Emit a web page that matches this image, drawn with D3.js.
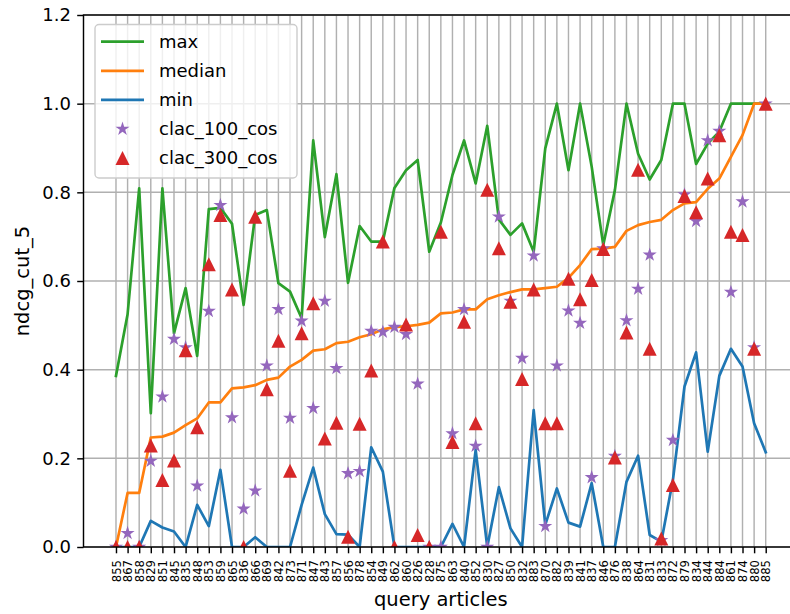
<!DOCTYPE html>
<html>
<head>
<meta charset="utf-8">
<script src="https://cdn.jsdelivr.net/npm/d3@7"></script>
<style>
  body { margin: 0; background: #fff; }
  text { font-family: "DejaVu Sans", sans-serif; }
</style>
</head>
<body>
<svg id="canvas"></svg>
<script>
let articles = [855, 867, 858, 829, 851, 845, 835, 848, 853, 859, 865, 836, 866, 869, 842, 873, 871, 847, 843, 857,
  856, 878, 854, 849, 862, 860, 826, 828, 875, 863, 840, 852, 830, 827, 850, 832, 883, 870, 882, 839,
  841, 837, 846, 876, 838, 864, 831, 833, 872, 879, 834, 844, 884, 861, 874, 880, 885];

let maxVals = [0.386, 0.525, 0.809, 0.302, 0.809, 0.482, 0.584, 0.431, 0.762, 0.765, 0.729, 0.546, 0.749, 0.760, 0.595, 0.576, 0.516, 0.917, 0.699, 0.841,
  0.596, 0.724, 0.689, 0.689, 0.81, 0.85, 0.873, 0.666, 0.732, 0.839, 0.917, 0.82, 0.95, 0.739, 0.704, 0.730, 0.666, 0.899, 1.0, 0.85,
  1.0, 0.858, 0.681, 0.805, 1.0, 0.887, 0.829, 0.873, 1.0, 1.0, 0.864, 0.91, 0.937, 1.0, 1.0, 1.0, 1.0];

let medianVals = [0, 0.122, 0.122, 0.247, 0.249, 0.258, 0.275, 0.290, 0.326, 0.326, 0.358, 0.360, 0.365, 0.377, 0.382, 0.407, 0.422, 0.443, 0.446, 0.46,
  0.463, 0.473, 0.480, 0.491, 0.496, 0.498, 0.501, 0.506, 0.527, 0.529, 0.536, 0.536, 0.559, 0.568, 0.575, 0.581, 0.581, 0.584, 0.587, 0.607,
  0.636, 0.672, 0.673, 0.677, 0.713, 0.726, 0.733, 0.738, 0.760, 0.775, 0.778, 0.808, 0.831, 0.880, 0.929, 1.0, 1.0];

let minVals = [0, 0, 0, 0.059, 0.044, 0.035, 0, 0.095, 0.047, 0.174, 0, 0, 0.022, 0, 0, 0, 0.095, 0.179, 0.074, 0.029,
  0.028, 0, 0.225, 0.17, 0, 0, 0, 0, 0, 0.052, 0, 0.219, 0, 0.135, 0.042, 0, 0.309, 0.05, 0.132, 0.055,
  0.046, 0.144, 0, 0, 0.147, 0.206, 0.027, 0.012, 0.151, 0.362, 0.439, 0.215, 0.386, 0.447, 0.407, 0.279, 0.214];

let clac100 = [0, 0.031, 0, 0.194, 0.339, 0.469, 0.45, 0.138, 0.532, 0.771, 0.292, 0.086, 0.127, 0.409, 0.536, 0.291, 0.51, 0.313, 0.555, 0.403,
  0.166, 0.171, 0.487, 0.485, 0.496, 0.48, 0.368, 0, 0, 0.256, 0.536, 0.228, 0, 0.745, 0.555, 0.426, 0.657, 0.047, 0.409, 0.533,
  0.505, 0.157, 0.673, 0.205, 0.511, 0.582, 0.659, 0.015, 0.241, 0.795, 0.735, 0.917, 0.938, 0.575, 0.779, 0.45, 1.0];

let clac300 = [0, 0, 0, 0.229, 0.151, 0.195, 0.444, 0.270, 0.638, 0.749, 0.581, 0, 0.745, 0.356, 0.465, 0.172, 0.482, 0.55, 0.245, 0.28,
  0.023, 0.278, 0.398, 0.689, 0, 0.502, 0.027, 0, 0.711, 0.237, 0.508, 0.279, 0.806, 0.674, 0.553, 0.379, 0.581, 0.279, 0.279, 0.605,
  0.559, 0.602, 0.672, 0.202, 0.484, 0.851, 0.447, 0.019, 0.14, 0.792, 0.755, 0.831, 0.929, 0.711, 0.704, 0.447, 1.0];

let yTicks = [0, 0.2, 0.4, 0.6, 0.8, 1.0, 1.2];

let W = 790, H = 614;
let axL = 83.5, axR = 798.2, axT = 15, axB = 547;

let svg = d3.select("#canvas").attr("width", W).attr("height", H);

let x = d3.scaleLinear().domain([-2.8, articles.length - 1 + 2.8]).range([axL, axR]);
let y = d3.scaleLinear().domain([0, 1.2]).range([axB, axT]);

svg.append("clipPath").attr("id", "plot")
  .append("rect").attr("x", axL).attr("y", axT).attr("width", axR - axL).attr("height", axB - axT);

// grid
let grid = svg.append("g").attr("stroke", "#b0b0b0").attr("stroke-width", 1.44);
grid.selectAll(".gx").data(articles).join("line")
  .attr("x1", (d, i) => x(i)).attr("x2", (d, i) => x(i))
  .attr("y1", axT).attr("y2", axB);
grid.selectAll(".gy").data(yTicks).join("line")
  .attr("x1", axL).attr("x2", axR)
  .attr("y1", d => y(d)).attr("y2", d => y(d));

let plot = svg.append("g").attr("clip-path", "url(#plot)");

let series = [
  { name: "max", values: maxVals, color: "#2ca02c" },
  { name: "median", values: medianVals, color: "#ff7f0e" },
  { name: "min", values: minVals, color: "#1f77b4" }
];

let line = d3.line().x((d, i) => x(i)).y(d => y(d));

series.forEach(s => {
  plot.append("path")
    .attr("d", line(s.values))
    .attr("fill", "none")
    .attr("stroke", s.color)
    .attr("stroke-width", 2.7)
    .attr("stroke-linejoin", "round")
    .attr("stroke-linecap", "square");
});

function starPath(r) {
  let pts = [];
  for (let k = 0; k < 10; k++) {
    let rr = k % 2 === 0 ? r : r * 0.381966;
    let a = Math.PI / 5 * k;
    pts.push([rr * Math.sin(a), -rr * Math.cos(a)]);
  }
  return "M" + pts.map(p => p.join(",")).join("L") + "Z";
}
function triPath(r) {
  return `M0,${-r}L${-r},${r}L${r},${r}Z`;
}

plot.selectAll(".star").data(clac100).join("path")
  .attr("d", starPath(7.4))
  .attr("transform", (d, i) => `translate(${x(i)},${y(d)})`)
  .attr("fill", "#9467bd");

plot.selectAll(".tri").data(clac300).join("path")
  .attr("d", triPath(7))
  .attr("transform", (d, i) => `translate(${x(i)},${y(d)})`)
  .attr("fill", "#d62728");

// spines
svg.append("rect")
  .attr("x", axL).attr("y", axT).attr("width", axR - axL).attr("height", axB - axT)
  .attr("fill", "none").attr("stroke", "#000").attr("stroke-width", 1.44);

// axes
let xAxis = svg.append("g").attr("transform", `translate(0,${axB})`)
  .call(d3.axisBottom(x).tickValues(d3.range(articles.length)).tickFormat(i => articles[i]).tickSize(6.3).tickPadding(0));
xAxis.select(".domain").remove();
xAxis.selectAll(".tick line").attr("stroke", "#000").attr("stroke-width", 1.44);
xAxis.selectAll(".tick text")
  .attr("font-size", 11.6)
  .attr("fill", "#000")
  .attr("text-anchor", "end")
  .attr("transform", "rotate(-90)")
  .attr("x", -13)
  .attr("y", 0)
  .attr("dy", "0.35em");

let yAxis = svg.append("g").attr("transform", `translate(${axL},0)`)
  .call(d3.axisLeft(y).tickValues(yTicks).tickFormat(d3.format(".1f")).tickSize(6.3).tickPadding(6.3));
yAxis.select(".domain").remove();
yAxis.selectAll(".tick line").attr("stroke", "#000").attr("stroke-width", 1.44);
yAxis.selectAll(".tick text").attr("font-size", 18).attr("fill", "#000");

svg.append("text")
  .attr("x", (axL + axR) / 2).attr("y", 606)
  .attr("text-anchor", "middle").attr("font-size", 19.5)
  .text("query articles");

svg.append("text")
  .attr("transform", `translate(29,${(axT + axB) / 2}) rotate(-90)`)
  .attr("text-anchor", "middle").attr("font-size", 19.5)
  .text("ndcg_cut_5");

// legend
let legend = svg.append("g");
legend.append("rect")
  .attr("x", 95).attr("y", 24.5).attr("width", 202).attr("height", 153.5)
  .attr("rx", 4).attr("fill", "#fff").attr("fill-opacity", 0.8)
  .attr("stroke", "#cccccc").attr("stroke-width", 1.4);

let legendItems = [
  { name: "max", type: "line", color: "#2ca02c" },
  { name: "median", type: "line", color: "#ff7f0e" },
  { name: "min", type: "line", color: "#1f77b4" },
  { name: "clac_100_cos", type: "star", color: "#9467bd" },
  { name: "clac_300_cos", type: "tri", color: "#d62728" }
];

let rows = legend.selectAll(".item").data(legendItems).join("g")
  .attr("transform", (d, i) => `translate(0,${41.7 + i * 29.1})`);

rows.filter(d => d.type === "line").append("line")
  .attr("x1", 101).attr("x2", 144).attr("y1", 0).attr("y2", 0)
  .attr("stroke", d => d.color).attr("stroke-width", 2.7);
rows.filter(d => d.type === "star").append("path")
  .attr("d", starPath(7.4)).attr("transform", "translate(122.5,0)").attr("fill", d => d.color);
rows.filter(d => d.type === "tri").append("path")
  .attr("d", triPath(7)).attr("transform", "translate(122.5,0)").attr("fill", d => d.color);
rows.append("text")
  .attr("x", 159).attr("y", 0).attr("dy", "0.35em")
  .attr("font-size", 18)
  .text(d => d.name);
</script>
</body>
</html>
